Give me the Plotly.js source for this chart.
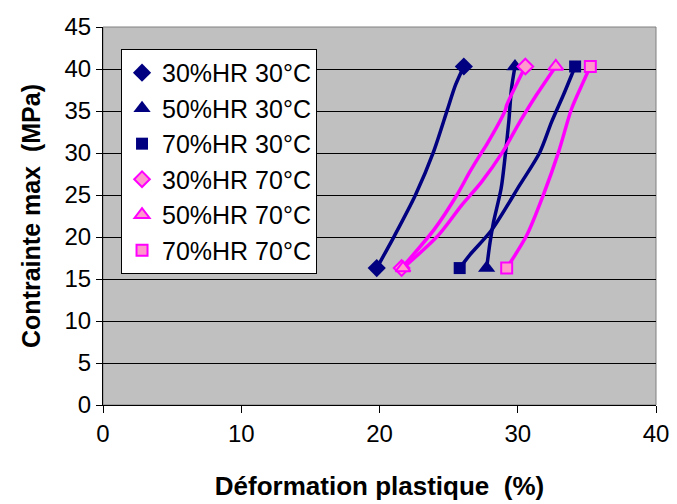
<!DOCTYPE html>
<html>
<head>
<meta charset="utf-8">
<script src="https://cdn.plot.ly/plotly-3.0.1.min.js"></script>
<style>html,body{margin:0;padding:0;background:#fff;}#chart{width:677px;height:504px;}</style>
</head>
<body>
<div id="chart"></div>
<script>
// Series names
const seriesNames = ["30%HR 30°C", "50%HR 30°C", "70%HR 30°C", "30%HR 70°C", "50%HR 70°C", "70%HR 70°C"];

// Déformation plastique (%) / Contrainte max (MPa)
const x_30HR_30C = [19.8, 21.1, 22.6, 23.9, 24.9, 25.5, 26.1];
const y_30HR_30C = [16.3, 20.2, 25.0, 30.1, 35.1, 38.1, 40.3];

const x_50HR_30C = [27.75, 28.0, 28.25, 28.8, 29.1, 29.35, 29.55, 29.8];
const y_50HR_30C = [16.3, 19.4, 21.8, 25.8, 29.8, 33.7, 37.7, 40.3];

const x_70HR_30C = [25.8, 26.55, 28.1, 30.15, 31.6, 32.45, 33.3, 34.15];
const y_70HR_30C = [16.3, 17.9, 20.8, 26.2, 30.1, 33.7, 36.9, 40.3];

const x_30HR_70C = [21.6, 24.0, 25.6, 26.55, 27.4, 27.75, 29.1, 29.2, 30.55];
const y_30HR_70C = [16.3, 21.0, 25.0, 27.8, 30.1, 31.0, 35.1, 35.7, 40.3];

const x_50HR_70C = [21.7, 24.25, 25.95, 27.4, 28.9, 30.15, 31.35, 32.75];
const y_50HR_70C = [16.3, 20.2, 23.8, 26.6, 30.1, 33.7, 36.9, 40.3];

const x_70HR_70C = [29.2, 30.65, 31.85, 32.95, 33.9, 34.75, 35.25];
const y_70HR_70C = [16.3, 20.2, 25.0, 30.1, 35.3, 38.5, 40.3];

const xTicks = [0, 10, 20, 30, 40];
const yTicks = [0, 5, 10, 15, 20, 25, 30, 35, 40, 45];

const xs = [x_30HR_30C, x_50HR_30C, x_70HR_30C, x_30HR_70C, x_50HR_70C, x_70HR_70C];
const ys = [y_30HR_30C, y_50HR_30C, y_70HR_30C, y_30HR_70C, y_50HR_70C, y_70HR_70C];

const NAVY = '#000080', MAG = '#FF00FF', PINK = '#FF99CC';
const styles = [
  {line: NAVY, symbol: 'diamond', fill: NAVY, size: 14},
  {line: NAVY, symbol: 'triangle-up', fill: NAVY, size: 15},
  {line: NAVY, symbol: 'square', fill: NAVY, size: 12},
  {line: MAG, symbol: 'diamond', fill: PINK, size: 12},
  {line: MAG, symbol: 'triangle-up', fill: PINK, size: 13},
  {line: MAG, symbol: 'square', fill: PINK, size: 11}
];

const traces = [];
// lines
for (let i = 0; i < 6; i++) {
  traces.push({
    x: xs[i], y: ys[i], type: 'scatter', mode: 'lines',
    line: {color: styles[i].line, width: 3.5, shape: 'spline', smoothing: 0.8},
    showlegend: false, hoverinfo: 'skip'
  });
}
// end markers (with legend)
for (let i = 0; i < 6; i++) {
  const n = xs[i].length;
  traces.push({
    x: [xs[i][0], xs[i][n - 1]], y: [ys[i][0], ys[i][n - 1]],
    type: 'scatter', mode: 'markers', name: seriesNames[i],
    legendgroup: 'g' + i,
    marker: {symbol: styles[i].symbol, size: styles[i].size, color: styles[i].fill,
             line: {color: styles[i].line, width: i >= 3 ? 2 : 0}}
  });
}

const FONT = 'Arial, "Liberation Sans", sans-serif';
const layout = {
  width: 677, height: 504,
  margin: {l: 103, r: 21, t: 27, b: 99},
  paper_bgcolor: '#ffffff',
  plot_bgcolor: '#C0C0C0',
  font: {family: FONT, size: 24, color: '#000'},
  xaxis: {
    range: [0, 40], tickvals: xTicks, ticktext: xTicks.map(String),
    showgrid: false, zeroline: false,
    showline: true, linecolor: '#000', linewidth: 1,
    ticks: 'outside', ticklen: 7, tickcolor: '#000',
    tickfont: {size: 24},
    title: {text: 'Déformation plastique  (%)', font: {size: 26, family: FONT, weight: 'bold'}, standoff: 31}
  },
  yaxis: {
    range: [0, 45], tickvals: yTicks, ticktext: yTicks.map(String),
    showgrid: true, gridcolor: '#000', gridwidth: 1,
    zeroline: false,
    showline: true, linecolor: '#000', linewidth: 1,
    ticks: 'outside', ticklen: 6, tickcolor: '#000',
    tickfont: {size: 24},
    title: {text: 'Contrainte max  (MPa)', font: {size: 25, family: FONT, weight: 'bold'}, standoff: 16}
  },
  shapes: [{type: 'rect', xref: 'paper', yref: 'paper', x0: 0, x1: 1, y0: 0, y1: 1,
            line: {color: '#808080', width: 1}, layer: 'below'}],
  legend: {
    x: 0.0326, y: 0.942, xanchor: 'left', yanchor: 'top',
    bgcolor: '#ffffff', bordercolor: '#000', borderwidth: 1,
    font: {size: 25, family: FONT},
    tracegroupgap: 0, itemwidth: 30
  },
  showlegend: true
};

Plotly.newPlot('chart', traces, layout, {staticPlot: true, displayModeBar: false});
</script>
</body>
</html>
